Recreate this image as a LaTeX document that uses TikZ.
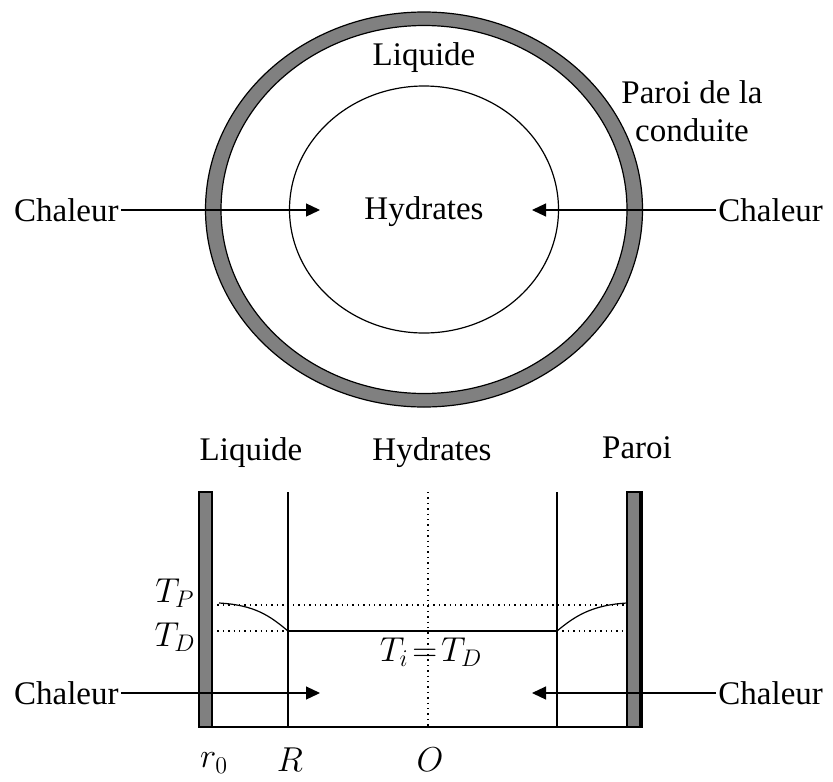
\documentclass[tikz,border=0pt]{standalone}
\usepackage{fontspec}
\setmainfont{Liberation Serif}
\usepackage{tikz}
\usetikzlibrary{arrows.meta}
\definecolor{wallgray}{RGB}{128, 128, 128}

\begin{document}
\begin{tikzpicture}[x=0.5pt, y=-0.5pt,
		font=\fontsize{16.5}{19}\selectfont,
		lbl/.style={inner sep=1pt},
		thinline/.style={black, line width=0.6pt},
		dotline/.style={black, line width=0.7pt, dotted},
		heat/.style={thinline, -{Triangle[length=7pt, width=6.5pt]}}]
			\def\cx{424}
			\def\cy{209.5}

			\useasboundingbox (0, 0) rectangle (833, 781);

			% la conduite, vue en coupe
			\fill[wallgray, even odd rule] (\cx, \cy) ellipse [x radius=218.5, y radius=197.5]
				(\cx, \cy) ellipse [x radius=203, y radius=184];
			\draw[thinline] (\cx, \cy) ellipse [x radius=218.5, y radius=197.5];
			\draw[thinline] (\cx, \cy) ellipse [x radius=203, y radius=184];
			\draw[thinline] (\cx, \cy) ellipse [x radius=134.5, y radius=123.5];

			\node[lbl] (liqA) at (\cx, 58) {Liquide};
			\node[lbl] (hydA) at (\cx, 212) {Hydrates};
			\node[lbl, align=center] (paroiA) at (692, 111) {Paroi de la\\conduite};

			\node[lbl, anchor=east] (chalA) at (121, 210) {Chaleur};
			\node[lbl, anchor=west] (chalB) at (716, 210) {Chaleur};
			\coordinate (tipA) at (320, 210);
			\coordinate (tipB) at (532, 210);
			\draw[heat] (chalA) -- (tipA);
			\draw[heat] (chalB) -- (tipB);

			% profil de temperature
			\fill[wallgray] (199, 492) rectangle (212, 727);
			\draw[thinline] (199, 492) rectangle (212, 727);
			\fill[wallgray] (627, 492) rectangle (642, 727);
			\draw[thinline] (627, 492) rectangle (642, 727);
			\draw[black, line width=1.6pt] (641, 492) -- (641, 727);

			\draw[thinline] (288, 492) -- (288, 727);
			\draw[thinline] (557, 492) -- (557, 727);
			\draw[dotline] (428, 492) -- (428, 727);
			\draw[thinline] (199, 727) -- (642, 727);

			\draw[dotline] (212, 605) -- (627, 605);
			\draw[dotline] (212, 631) -- (288, 631);
			\draw[dotline] (557, 631) -- (627, 631);
			\draw[thinline] (288, 631) -- (557, 631);
			\draw[thinline] (219, 603) .. controls (255, 605) and (270, 616) .. (288, 631);
			\draw[thinline] (557, 631) .. controls (575, 616) and (592, 605) .. (627, 603);

			\node[lbl] (liqB) at (251, 453) {Liquide};
			\node[lbl] (hydB) at (432, 453) {Hydrates};
			\node[lbl] (paroiB) at (637, 448) {Paroi};

			\node[lbl] (tp) at (175, 593) {$T_P$};
			\node[lbl] (td) at (175, 637) {$T_D$};
			\node[lbl] (ti) at (431, 652) {$T_i\!=\!T_D$};

			\node[lbl, anchor=east] (chalC) at (121, 693) {Chaleur};
			\node[lbl, anchor=west] (chalD) at (716, 693) {Chaleur};
			\coordinate (tipC) at (320, 693);
			\coordinate (tipD) at (532, 693);
			\draw[heat] (chalC) -- (tipC);
			\draw[heat] (chalD) -- (tipD);

			\node[lbl] (rzero) at (214, 763) {$r_0$};
			\node[lbl] (rr) at (290, 760) {$R$};
			\node[lbl] (oo) at (430, 760) {$O$};

		\end{tikzpicture}
\end{document}
